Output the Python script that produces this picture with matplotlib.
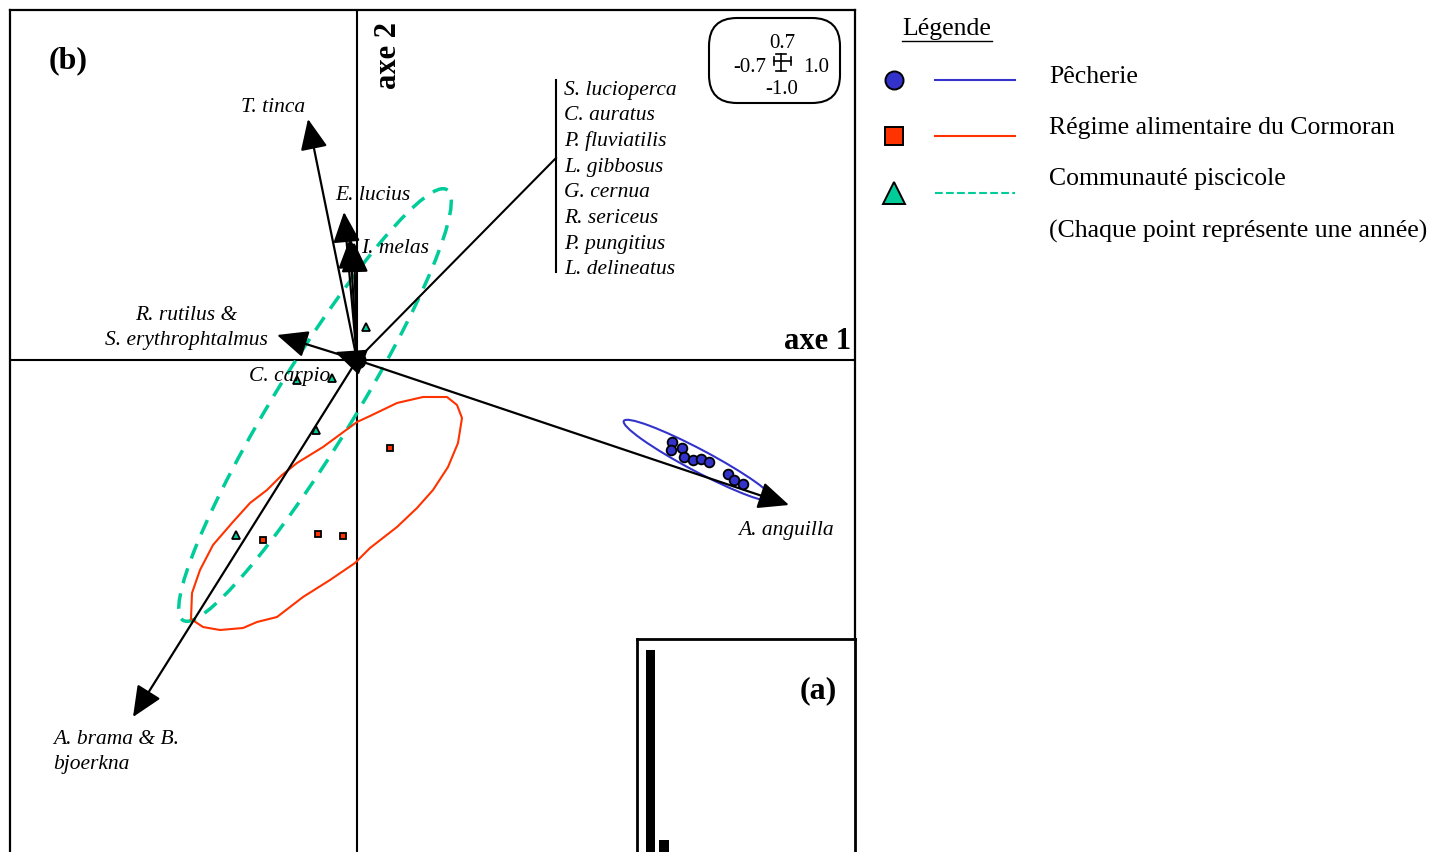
import matplotlib.pyplot as plt
import numpy as np
from matplotlib.patches import Ellipse, FancyBboxPatch

plt.rcParams['font.family'] = ['Liberation Serif', 'DejaVu Serif']

# species vectors (tip coordinates in the factorial plane)
ARROW_NAMES = ["T. tinca", "E. lucius", "I. melas", "",
               "R. rutilus &\nS. erythrophtalmus", "C. carpio",
               "A. anguilla", "A. brama & B.\nbjoerkna"]
ARROW_X = [-0.49, -0.13, -0.07, -0.03, -0.80, -0.22, 4.32, -2.24]
ARROW_Y = [2.41, 1.48, 1.22, 1.18, 0.25, 0.08, -1.45, -3.57]
LABEL_X = [-0.84, 0.16, 0.38, 0, -1.71, -0.67, 4.29, -3.04]
LABEL_Y = [2.53, 1.65, 1.11, 0, 0.32, -0.17, -1.71, -3.92]
LABEL_HA = ["center", "center", "center", "center", "center", "center", "center", "left"]

# species grouped near the centre, pointing to one common direction
GROUPED = ["S. lucioperca", "C. auratus", "P. fluviatilis", "L. gibbosus",
           "G. cernua", "R. sericeus", "P. pungitius", "L. delineatus"]
GROUP_DIR = (1.99, 2.02)

# years: fishery catches, cormorant diet, fish community
PECHE_X = [3.15, 3.14, 3.25, 3.27, 3.36, 3.44, 3.52, 3.71, 3.77, 3.86]
PECHE_Y = [-0.82, -0.90, -0.88, -0.97, -1.00, -0.99, -1.02, -1.14, -1.20, -1.24]
CORMO_X = [0.33, -0.39, -0.14, -0.94]
CORMO_Y = [-0.88, -1.74, -1.76, -1.80]
COMMU_X = [0.09, -0.60, -0.25, -0.41, -1.21]
COMMU_Y = [0.33, -0.20, -0.18, -0.70, -1.75]

# cormorant diet envelope (hand drawn)
CORMO_ENV_X = [-1.66, -1.65, -1.57, -1.44, -1.25, -1.07, -0.90, -0.75, -0.60, -0.34,
               0.00, 0.13, 0.40, 0.66, 0.90, 1.00, 1.05, 1.01, 0.91, 0.76, 0.60,
               0.40, 0.13, -0.02, -0.27, -0.54, -0.80, -1.00, -1.14, -1.37, -1.54, -1.66]
CORMO_ENV_Y = [-2.59, -2.33, -2.10, -1.85, -1.63, -1.43, -1.30, -1.15, -1.03, -0.87,
               -0.62, -0.56, -0.43, -0.37, -0.37, -0.45, -0.58, -0.83, -1.07, -1.30, -1.48,
               -1.67, -1.88, -2.03, -2.20, -2.37, -2.57, -2.62, -2.68, -2.70, -2.67, -2.59]

# inertia ellipses: centre x, centre y, width, height, angle
PECHE_ELL = (3.415, -1.005, 1.69, 0.22, -27.9)
COMMU_ELL = (-0.42, -0.45, 5.05, 0.80, 58.5)

# eigenvalues (inset a)
EIGEN = [0.95, 0.10]

BLUE = "#3333cc"
RED = "#ff3300"
GREEN = "#00cc99"
FS = 15.5

W, H = 1456, 852
fig = plt.figure(figsize=(W / 100, H / 100), dpi=100)
ax = fig.add_axes([10 / W, 0, 845 / W, 842 / H])
ax.set_xlim(-3.47, 4.98)
ax.set_ylim(-4.92, 3.50)
ax.set_xticks([])
ax.set_yticks([])
ax.spines['bottom'].set_visible(False)
for s in ['left', 'top', 'right']:
    ax.spines[s].set_linewidth(1.6)

ax.axhline(0, color="black", lw=1.5, zorder=1)
ax.axvline(0, color="black", lw=1.5, zorder=1)

# envelopes
e = PECHE_ELL
ax.add_patch(Ellipse((e[0], e[1]), e[2], e[3], angle=e[4], fill=False,
                     edgecolor=BLUE, lw=1.5, zorder=2))
e = COMMU_ELL
ax.add_patch(Ellipse((e[0], e[1]), e[2], e[3], angle=e[4], fill=False,
                     edgecolor=GREEN, lw=2.5, ls=(0, (4.5, 3)), zorder=2))
ax.plot(CORMO_ENV_X, CORMO_ENV_Y, color=RED, lw=1.5, zorder=2)

# species arrows
for name, x, y, lx, ly, ha in zip(ARROW_NAMES, ARROW_X, ARROW_Y, LABEL_X, LABEL_Y, LABEL_HA):
    ax.annotate("", xy=(x, y), xytext=(0, 0),
                arrowprops=dict(arrowstyle="-|>,head_length=0.9,head_width=0.4",
                                color="black", lw=1.6, mutation_scale=21,
                                shrinkA=0, shrinkB=0), zorder=3)
    if name:
        ax.text(lx, ly, name, ha=ha, va="center", style="italic", fontsize=FS,
                multialignment=ha, linespacing=1.45, zorder=5)

# grouped species
ax.plot([0, GROUP_DIR[0]], [0, GROUP_DIR[1]], color="black", lw=1.5, zorder=3)
ax.plot([GROUP_DIR[0], GROUP_DIR[0]], [2.80, 0.88], color="black", lw=1.5, zorder=3)
for i, name in enumerate(GROUPED):
    ax.text(GROUP_DIR[0] + 0.08, 2.70 - 0.257 * i, name, ha="left", va="center",
            style="italic", fontsize=FS)

# points
ax.plot(PECHE_X, PECHE_Y, "o", ms=7, mfc=BLUE, mec="black", mew=1.3, zorder=4)
ax.plot(CORMO_X, CORMO_Y, "s", ms=5, mfc=RED, mec="black", mew=1.3, zorder=4)
ax.plot(COMMU_X, COMMU_Y, "^", ms=6, mfc=GREEN, mec="black", mew=1.3, zorder=4)
ax.plot([0], [0], "o", ms=12, color="black", zorder=5)

# titles of axes and panel
ax.text(-2.89, 2.99, "(b)", fontsize=23, fontweight="bold", ha="center", va="center")
ax.text(4.94, 0.18, "axe 1", fontsize=22, fontweight="bold", ha="right", va="center")
ax.text(0.32, 3.04, "axe 2", fontsize=22, fontweight="bold", ha="center", va="center",
        rotation=90)

# scale box
ax.add_patch(FancyBboxPatch((3.52, 2.57), 1.31, 0.85,
                            boxstyle="round,pad=0,rounding_size=0.28",
                            fill=False, edgecolor="black", lw=1.5))
cx, cy, sc = 4.24, 2.99, 0.1
ax.plot([cx - 0.7 * sc, cx + 1.0 * sc], [cy, cy], color="black", lw=1.2)
ax.plot([cx, cx], [cy - 1.0 * sc, cy + 0.7 * sc], color="black", lw=1.2)
for v in [cx - 0.7 * sc, cx + 1.0 * sc]:
    ax.plot([v, v], [cy - 0.04, cy + 0.04], color="black", lw=1.2)
for v in [cy - 1.0 * sc, cy + 0.7 * sc]:
    ax.plot([cx - 0.05, cx + 0.05], [v, v], color="black", lw=1.2)
ax.text(4.25, 3.17, "0.7", fontsize=15, ha="center", va="center")
ax.text(3.93, 2.93, "-0.7", fontsize=15, ha="center", va="center")
ax.text(4.59, 2.93, "1.0", fontsize=15, ha="center", va="center")
ax.text(4.25, 2.71, "-1.0", fontsize=15, ha="center", va="center")

# inset (a): eigenvalues
ins = fig.add_axes([637 / W, -60 / H, 218 / W, 273 / H])
ins.bar([0, 1], EIGEN, width=0.67, color="black")
ins.set_xlim(-1, 15.15)
ins.set_ylim(-0.222, 1.0)
ins.set_xticks([])
ins.set_yticks([])
ins.spines['bottom'].set_visible(False)
for s in ['left', 'top', 'right']:
    ins.spines[s].set_linewidth(2)
ins.text(0.83, 0.81, "(a)", transform=ins.transAxes, fontsize=23, fontweight="bold",
         ha="center", va="center")

# legend (drawn on an overlay in pixel units)
lg = fig.add_axes([0, 0, 1, 1])
lg.set_xlim(0, W)
lg.set_ylim(H, 0)
lg.axis("off")
lg.text(947, 29, "Légende", fontsize=18.5, ha="center", va="center")
lg.plot([902, 992], [41, 41], color="black", lw=1)
items = [("Pêcherie", "o", BLUE, "-", 80, 77, 13),
         ("Régime alimentaire du Cormoran", "s", RED, "-", 136, 128, 13),
         ("Communauté piscicole", "^", GREEN, "--", 193, 179, 16)]
for label, mk, col, ls, yl, yt, ms in items:
    lg.plot([894], [yl], mk, ms=ms, mfc=col, mec="black", mew=1.4)
    lg.plot([935, 1015], [yl, yl], color=col, lw=1.5, ls=ls)
    lg.text(1049, yt, label, fontsize=18.5, ha="left", va="center")
lg.text(1049, 231, "(Chaque point représente une année)", fontsize=18.5,
        ha="left", va="center")

fig.savefig("out.png", dpi=100)
